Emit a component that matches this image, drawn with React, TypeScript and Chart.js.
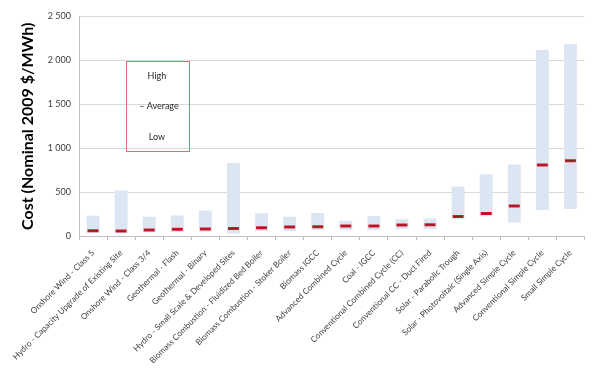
import React, { useEffect, useRef } from 'react';
import { Chart, registerables } from 'chart.js';

Chart.register(...registerables);

const categories = [
  'Onshore Wind - Class 5',
  'Hydro - Capacity Upgrade of Existing Site',
  'Onshore Wind - Class 3/4',
  'Geothermal - Flash',
  'Geothermal - Binary',
  'Hydro - Small Scale & Developed Sites',
  'Biomass Combustion - Fluidized Bed Boiler',
  'Biomass Combustion - Stoker Boiler',
  'Biomass IGCC',
  'Advanced Combined Cycle',
  'Coal - IGCC',
  'Conventional Combined Cycle (CC)',
  'Conventional CC - Duct Fired',
  'Solar - Parabolic Trough',
  'Solar - Photovoltaic (Single Axis)',
  'Advanced Simple Cycle',
  'Conventional Simple Cycle',
  'Small Simple Cycle',
];

const lows = [38, 38, 42, 45, 48, 28, 56, 56, 68, 68, 68, 79, 79, 190, 226, 155, 297, 308];
const highs = [230, 519, 220, 234, 290, 832, 260, 220, 263, 173, 229, 192, 200, 564, 703, 813, 2118, 2186];
const averages = [60, 56, 68, 76, 80, 85, 94, 102, 105, 113, 113, 124, 128, 222, 256, 342, 809, 858];

const yTicks = [0, 500, 1000, 1500, 2000, 2500];
const legendLabels = ['High', '\u2013 Average', 'Low'];
const yTitle = 'Cost (Nominal 2009 $/MWh)';

const fmt = (v: number) => String(v).replace(/\B(?=(\d{3})+(?!\d))/g, ' ');

const legendBoxPlugin = {
  id: 'legendBox',
  afterDatasetsDraw(chart: any) {
    const { ctx, scales } = chart;
    const x = scales.x;
    const y = scales.y;
    const left = x.getPixelForValue(1.16);
    const right = x.getPixelForValue(3.39);
    const top = y.getPixelForValue(1990);
    const bottom = y.getPixelForValue(962);
    ctx.save();
    ctx.strokeStyle = '#d9707a';
    ctx.lineWidth = 1;
    ctx.strokeRect(Math.round(left) + 0.5, Math.round(top) + 0.5, Math.round(right - left), Math.round(bottom - top));
    ctx.fillStyle = '#262626';
    ctx.font = '9px Lato';
    ctx.textAlign = 'center';
    ctx.textBaseline = 'middle';
    const cx = (left + right) / 2;
    const h = bottom - top;
    ctx.fillText(legendLabels[0], cx, top + h * 0.16);
    ctx.fillText(legendLabels[1], cx + 2, top + h * 0.5);
    ctx.fillText(legendLabels[2], cx, top + h * 0.84);
    ctx.restore();
  },
};

export default function App() {
  const ref = useRef<HTMLCanvasElement | null>(null);
  useEffect(() => {
    if (!ref.current) return;
    const chart = new Chart(ref.current, {
      type: 'bar',
      data: {
        labels: categories,
        datasets: [
          {
            type: 'line',
            label: 'Average',
            data: averages,
            showLine: false,
            pointStyle: 'line',
            pointRadius: 5.5,
            pointBorderWidth: 3,
            pointBorderColor: '#d6162b',
            pointBackgroundColor: '#d6162b',
            order: 1,
          } as any,
          {
            type: 'line',
            label: 'AverageCore',
            data: averages,
            showLine: false,
            pointStyle: 'line',
            pointRadius: 4.5,
            pointBorderWidth: 1,
            pointBorderColor: '#8a1f26',
            pointBackgroundColor: '#8a1f26',
            order: 0,
          } as any,
          {
            type: 'bar',
            label: 'Range',
            data: lows.map((l, i) => [l, highs[i]]),
            backgroundColor: '#dce6f2',
            borderWidth: 0,
            barPercentage: 0.46,
            categoryPercentage: 1,
            order: 2,
          } as any,
        ],
      },
      options: {
        animation: false,
        responsive: false,
        maintainAspectRatio: false,
        layout: { padding: { left: 6, right: 5, top: 7, bottom: 0 } },
        plugins: {
          legend: { display: false },
          tooltip: { enabled: false },
        },
        scales: {
          x: {
            offset: true,
            grid: {
              offset: true,
              drawOnChartArea: false,
              drawTicks: true,
              tickLength: 4,
              color: '#bfbfbf',
            },
            border: { display: true, color: '#bfbfbf' },
            ticks: {
              autoSkip: false,
              minRotation: 45,
              maxRotation: 45,
              padding: 8,
              color: '#404040',
              font: { family: 'Lato', size: 8.3 },
            },
            afterFit(scale: any) {
              scale.height = 127;
              scale.paddingLeft = 0;
              scale.paddingRight = 0;
            },
          },
          y: {
            min: 0,
            max: 2500,
            afterBuildTicks(scale: any) {
              scale.ticks = yTicks.map((v) => ({ value: v }));
            },
            grid: { color: '#d9d9d9', drawTicks: false },
            border: { display: true, color: '#bfbfbf' },
            ticks: {
              padding: 8,
              color: '#404040',
              font: { family: 'Lato', size: 9 },
              callback: (v: any) => fmt(Number(v)),
            },
            title: {
              display: true,
              text: yTitle,
              color: '#000000',
              font: { family: 'Lato', size: 16, weight: 'bold' },
              padding: { top: 4, bottom: 14 },
            },
            afterFit(scale: any) {
              scale.width = 65;
              scale.paddingTop = 0;
              scale.paddingBottom = 0;
            },
          },
        },
      },
      plugins: [legendBoxPlugin],
    });
    return () => chart.destroy();
  }, []);
  return (
    <div style={{ width: 585, height: 355 }}>
      <canvas ref={ref} width={585} height={355} style={{ display: 'block' }} />
    </div>
  );
}
